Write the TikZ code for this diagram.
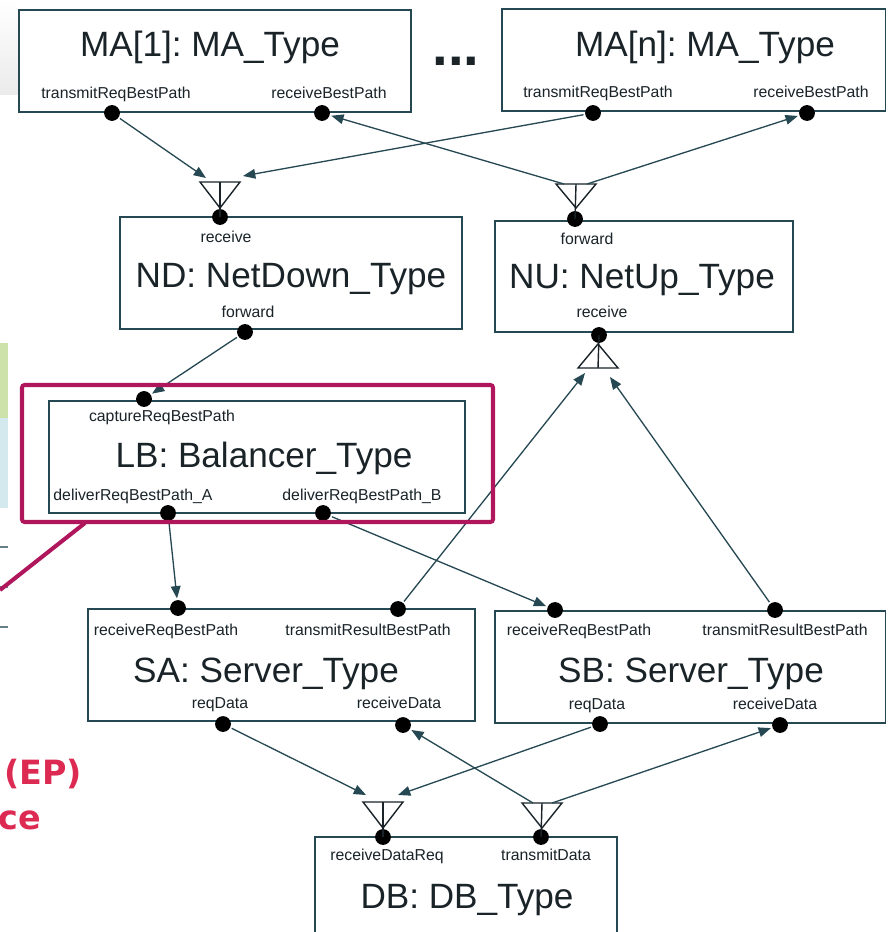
\documentclass[tikz,border=0pt]{standalone}
\usepackage{fontspec}
\setmainfont{Liberation Sans}
\newfontfamily\notefont{DejaVu Sans}
\usetikzlibrary{arrows.meta,fit}
\frenchspacing

\definecolor{wire}{RGB}{38,72,82}
\definecolor{ink}{RGB}{25,35,40}
\definecolor{frame}{RGB}{176,22,92}
\definecolor{note}{RGB}{220,42,82}
\definecolor{leafgreen}{RGB}{205,226,170}
\definecolor{paleblue}{RGB}{212,233,238}

\begin{document}
\begin{tikzpicture}[x=0.02cm,y=-0.02cm,
  box/.style={draw=wire,line width=0.8pt,inner sep=0pt,fill=white},
  title/.style={anchor=base,inner sep=0pt,text=ink,font=\fontsize{20}{20}\selectfont},
  plabel/.style={anchor=base,inner sep=0pt,text=ink,font=\fontsize{9}{9}\selectfont},
  port/.style={circle,fill=black,inner sep=0pt,minimum size=9pt,outer sep=1pt},
  conn/.style={draw=wire,line width=0.75pt},
  tip/.style={conn,-{Triangle[length=7pt,width=5.5pt]}},
  tri/.style={draw=ink,line width=0.8pt,line join=miter},
]
\useasboundingbox (0,0) rectangle (887,932);
\clip (0,0) rectangle (887,932);

% fragments of the surrounding slide
\shade[top color=white,bottom color=gray!16] (0,0) rectangle (18,95);
\fill[leafgreen] (0,343) rectangle (8,418);
\fill[paleblue] (0,418) rectangle (8,508);
\foreach \yy in {547,587,627} \draw[wire!70,line width=1pt] (0,\yy) -- (8,\yy);

% component boxes
\node[box,fit={(19,10)(411,112)}] (ma1) {};
\node[box,fit={(502,9)(885.5,111)}] (man) {};
\node[box,fit={(120,217)(462,329)}] (nd) {};
\node[box,fit={(495,221)(793,332)}] (nu) {};
\node[box,fit={(49,401)(465,513)}] (lb) {};
\node[box,fit={(88,609)(475,721)}] (sa) {};
\node[box,fit={(495,611)(885.5,723)}] (sb) {};
\node[box,fit={(315,837)(617,945)}] (db) {};

% titles
\node[title] (ma1title) at (210,57) {MA[1]: MA\_Type};
\node[title] (mantitle) at (705,57) {MA[n]: MA\_Type};
\node[anchor=base,inner sep=0pt,text=ink,font=\bfseries\fontsize{32}{32}\selectfont] (dots) at (456,66) {...};
\node[title] (ndtitle) at (291,288) {ND: NetDown\_Type};
\node[title] (nutitle) at (642,289) {NU: NetUp\_Type};
\node[title] (lbtitle) at (264,467) {LB: Balancer\_Type};
\node[title] (satitle) at (266,682) {SA: Server\_Type};
\node[title] (sbtitle) at (691,682) {SB: Server\_Type};
\node[title] (dbtitle) at (467,908) {DB: DB\_Type};

% port labels
\node[plabel] at (116,99) {transmitReqBestPath};
\node[plabel] at (329,99) {receiveBestPath};
\node[plabel] at (598,98) {transmitReqBestPath};
\node[plabel] at (811,98) {receiveBestPath};
\node[plabel] at (226,243) {receive};
\node[plabel] at (248,317) {forward};
\node[plabel] at (587,245) {forward};
\node[plabel] at (602,317) {receive};
\node[plabel] at (162,421) {captureReqBestPath};
\node[plabel] at (133,500) {deliverReqBestPath\_A};
\node[plabel] at (362,500) {deliverReqBestPath\_B};
\node[plabel] at (166,635) {receiveReqBestPath};
\node[plabel] at (368,635) {transmitResultBestPath};
\node[plabel] at (220,708) {reqData};
\node[plabel] at (399,708) {receiveData};
\node[plabel] at (579,635) {receiveReqBestPath};
\node[plabel] at (785,635) {transmitResultBestPath};
\node[plabel] at (597,709) {reqData};
\node[plabel] at (775,709) {receiveData};
\node[plabel] at (387,860) {receiveDataReq};
\node[plabel] at (546,860) {transmitData};

% ports
\node[port] (ma1t) at (112,113) {};
\node[port] (ma1r) at (322,113) {};
\node[port] (mant) at (593,113) {};
\node[port] (manr) at (807,113) {};
\node[port] (ndr) at (220,217) {};
\node[port] (ndf) at (245,332) {};
\node[port] (nuf) at (575,219) {};
\node[port] (nur) at (599,335) {};
\node[port] (lbc) at (144,399) {};
\node[port] (lba) at (168,513) {};
\node[port] (lbb) at (323,513) {};
\node[port] (sar) at (178,608) {};
\node[port] (sat) at (398,609) {};
\node[port] (saq) at (223,724) {};
\node[port] (sad) at (403,725) {};
\node[port] (sbr) at (555,610) {};
\node[port] (sbt) at (775,610) {};
\node[port] (sbq) at (600,724) {};
\node[port] (sbd) at (780,725) {};
\node[port] (dbq) at (383,837) {};
\node[port] (dbt) at (541,837) {};

% merge / split triangles
\draw[tri] (200,182) -- (240,182) -- (220,208) -- cycle;
\draw[tri] (220,182) -- (ndr.center);
\draw[tri] (556,184) -- (596,184) -- (576,208) -- cycle;
\draw[tri] (576,184) -- (nuf.center);
\draw[tri] (578,368) -- (618,368) -- (598,344) -- cycle;
\draw[tri] (598,368) -- (nur.center);
\draw[tri] (363,802) -- (403,802) -- (383,828) -- cycle;
\draw[tri] (383,802) -- (dbq.center);
\draw[tri] (522,803) -- (562,803) -- (542,828) -- cycle;
\draw[tri] (542,803) -- (dbt.center);

% triangle connection points
\coordinate (t1a) at (206,178);
\coordinate (t1b) at (243,176);
\coordinate (t2a) at (564,184);
\coordinate (t2b) at (587,184);
\coordinate (t3a) at (585,373);
\coordinate (t3b) at (610,377);
\coordinate (t4a) at (366,795);
\coordinate (t4b) at (398,795);
\coordinate (t5a) at (533,803);
\coordinate (t5b) at (552,803);

% connectors
\draw[tip] (ma1t) -- (t1a);
\draw[tip] (mant) -- (t1b);
\draw[tip] (t2a) -- (ma1r);
\draw[tip] (t2b) -- (manr);
\draw[tip] (ndf) -- (lbc);
\draw[tip] (lba) -- (sar);
\draw[tip] (lbb) -- (sbr);
\draw[tip] (sat) -- (t3a);
\draw[tip] (sbt) -- (t3b);
\draw[tip] (saq) -- (t4a);
\draw[tip] (sbq) -- (t4b);
\draw[tip] (t5a) -- (sad);
\draw[tip] (t5b) -- (sbd);

% highlight frame and callout
\draw[frame,line width=2.3pt,rounded corners=1.5pt] (22,385) rectangle (493,522);
\coordinate (callend) at (0,590);
\draw[frame,line width=2.3pt] (85,523) -- (callend);
\node[anchor=base west,inner sep=0pt,text=note,font=\notefont\bfseries\fontsize{19}{19}\selectfont] (ep) at (4,784) {(EP)};
\node[anchor=base east,inner sep=0pt,text=note,font=\notefont\bfseries\fontsize{19}{19}\selectfont] (ce) at (41,829) {ce};
\end{tikzpicture}
\end{document}
